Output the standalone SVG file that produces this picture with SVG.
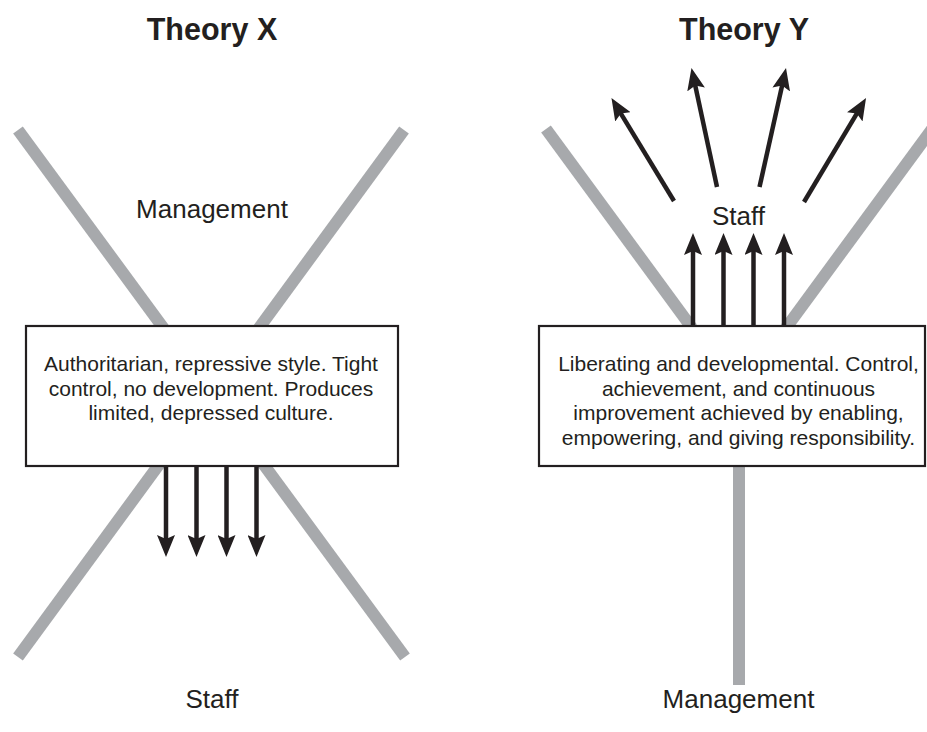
<svg xmlns="http://www.w3.org/2000/svg" width="927" height="732" viewBox="0 0 927 732">
  <style>
    .beam { stroke: #a7a9ac; stroke-width: 12; stroke-linecap: butt; fill: none; }
    .box { fill: #ffffff; stroke: #231f20; stroke-width: 2.2; }
    .arrow { stroke: #231f20; stroke-width: 4.5; fill: none; marker-end: url(#head); }
    .title { font-family: "Liberation Sans", Arial, sans-serif; font-weight: bold; font-size: 30.5px; fill: #231f20; text-anchor: middle; }
    .label { font-family: "Liberation Sans", Arial, sans-serif; font-size: 26px; fill: #231f20; text-anchor: middle; }
    .body { font-family: "Liberation Sans", Arial, sans-serif; font-size: 21px; fill: #231f20; text-anchor: middle; }
  </style>
  <defs>
    <marker id="head" viewBox="0 0 22 18" refX="10" refY="9" markerWidth="22" markerHeight="18" markerUnits="userSpaceOnUse" orient="auto">
      <path d="M22,9 L0,0 L4,9 L0,18 Z" fill="#231f20"/>
    </marker>
  </defs>
  <rect width="927" height="732" fill="#ffffff"/>

  <!-- Theory X: crossing beams -->
  <g id="beams-x">
    <line class="beam" x1="18" y1="130" x2="405" y2="657"/>
    <line class="beam" x1="404" y1="130" x2="18" y2="657"/>
  </g>

  <!-- Theory Y: open V with a single stem -->
  <g id="beams-y">
    <line class="beam" x1="546" y1="129" x2="692" y2="328"/>
    <line class="beam" x1="932" y1="129" x2="786" y2="328"/>
    <line class="beam" x1="739" y1="466" x2="739" y2="685"/>
  </g>

  <g id="title-x"><text class="title" x="212" y="40">Theory X</text></g>
  <g id="title-y"><text class="title" x="744" y="40">Theory Y</text></g>

  <g id="management-x"><text class="label" x="212" y="218">Management</text></g>
  <g id="staff-x"><text class="label" x="212" y="708">Staff</text></g>
  <g id="staff-y"><text class="label" x="738.5" y="225">Staff</text></g>
  <g id="management-y"><text class="label" x="738.5" y="708">Management</text></g>

  <g id="box-x">
    <rect class="box" x="26" y="326" width="372" height="140"/>
    <text class="body" x="211" y="371">Authoritarian, repressive style. Tight</text>
    <text class="body" x="211" y="395.5">control, no development. Produces</text>
    <text class="body" x="211" y="420">limited, depressed culture.</text>
  </g>

  <g id="box-y">
    <rect class="box" x="539" y="326" width="386" height="140"/>
    <text class="body" x="738.5" y="371">Liberating and developmental. Control,</text>
    <text class="body" x="738.5" y="395.5">achievement, and continuous</text>
    <text class="body" x="738.5" y="420">improvement achieved by enabling,</text>
    <text class="body" x="738.5" y="444.5">empowering, and giving responsibility.</text>
  </g>

  <g id="connectors">
    <!-- management pushes down onto staff -->
    <line class="arrow" x1="166" y1="467" x2="166" y2="545"/>
    <line class="arrow" x1="196.5" y1="467" x2="196.5" y2="545"/>
    <line class="arrow" x1="226.5" y1="467" x2="226.5" y2="545"/>
    <line class="arrow" x1="256.5" y1="467" x2="256.5" y2="545"/>
    <!-- management lifts staff upward -->
    <line class="arrow" x1="693" y1="325" x2="693" y2="245"/>
    <line class="arrow" x1="723.5" y1="325" x2="723.5" y2="245"/>
    <line class="arrow" x1="753.5" y1="325" x2="753.5" y2="245"/>
    <line class="arrow" x1="784" y1="325" x2="784" y2="245"/>
    <!-- staff growth fanning out -->
    <line class="arrow" x1="674" y1="201" x2="617.7" y2="108.3"/>
    <line class="arrow" x1="717" y1="187" x2="694" y2="79.7"/>
    <line class="arrow" x1="759.5" y1="187" x2="783.4" y2="79.7"/>
    <line class="arrow" x1="804" y1="202" x2="859.9" y2="108.3"/>
  </g>
</svg>
